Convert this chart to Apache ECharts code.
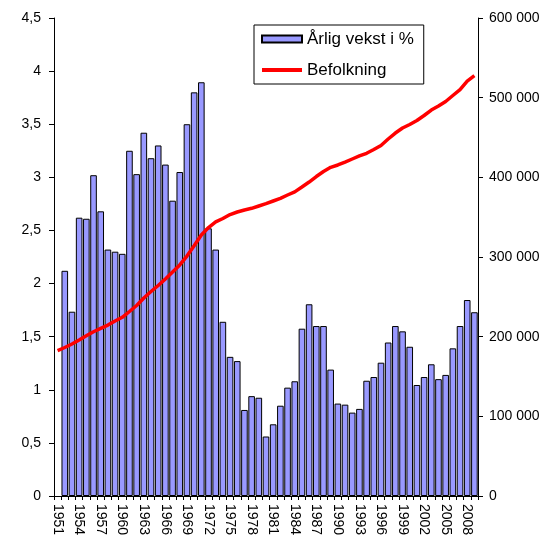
<!DOCTYPE html>
<html>
<head>
<meta charset="utf-8">
<script src="https://cdn.jsdelivr.net/npm/echarts@6/dist/echarts.min.js"></script>
<style>
html,body{margin:0;padding:0;background:#fff;}
#chart{width:550px;height:545px;}
</style>
</head>
<body>
<div id="chart"></div>
<script>
var years = ['1951','1952','1953','1954','1955','1956','1957','1958','1959','1960',
'1961','1962','1963','1964','1965','1966','1967','1968','1969','1970',
'1971','1972','1973','1974','1975','1976','1977','1978','1979','1980',
'1981','1982','1983','1984','1985','1986','1987','1988','1989','1990',
'1991','1992','1993','1994','1995','1996','1997','1998','1999','2000',
'2001','2002','2003','2004','2005','2006','2007','2008','2009'];

var growth = [null, 2.12, 1.735, 2.62, 2.61, 3.02, 2.68, 2.32, 2.30, 2.28,
3.25, 3.03, 3.42, 3.18, 3.30, 3.12, 2.78, 3.05, 3.50, 3.80,
3.895, 2.52, 2.32, 1.64, 1.31, 1.27, 0.81, 0.94, 0.925, 0.56,
0.675, 0.85, 1.02, 1.08, 1.575, 1.805, 1.60, 1.60, 1.19, 0.87,
0.86, 0.785, 0.82, 1.085, 1.12, 1.255, 1.445, 1.60, 1.55, 1.405,
1.045, 1.12, 1.24, 1.10, 1.14, 1.39, 1.60, 1.845, 1.73];

var population = [182600, 186400, 190800, 195800, 201200, 206200, 210500, 214600, 219700, 224300,
231600, 239100, 248500, 256700, 264200, 272400, 281200, 290000, 301200, 314200,
327600, 337000, 344000, 348300, 353300, 356500, 359000, 361100, 364000, 366900,
370300, 373700, 377800, 381800, 387900, 394100, 401000, 407300, 412600, 415500,
419200, 423000, 426800, 430200, 434900, 440000, 448100, 455600, 461900, 466300,
471300, 477600, 484500, 489500, 495200, 502700, 510200, 520900, 527800];

var leftTicks = {min: 0, max: 4.5, interval: 0.5};
var rightTicks = {min: 0, max: 600000, interval: 100000};

var FONT = '"Liberation Sans", Arial, sans-serif';
var chart = echarts.init(document.getElementById('chart'), null, {renderer: 'canvas'});

chart.setOption({
  animation: false,
  backgroundColor: '#ffffff',
  textStyle: {fontFamily: FONT, color: '#000'},
  grid: {left: 54, right: 72, top: 18, bottom: 49, containLabel: false},
  legend: {
    orient: 'vertical',
    left: 254, top: 25,
    padding: [4, 10, 4, 7],
    itemGap: 11,
    itemWidth: 40,
    itemHeight: 7,
    borderColor: '#000',
    borderWidth: 1,
    backgroundColor: '#fff',
    textStyle: {fontFamily: FONT, fontSize: 17, color: '#000', lineHeight: 20},
    data: [
      {name: 'Årlig vekst i %', icon: 'rect'},
      {name: 'Befolkning', icon: 'path://M0,0L40,0L40,4L0,4Z', itemStyle: {color: '#ff0000', borderWidth: 0}}
    ]
  },
  xAxis: {
    type: 'category',
    data: years,
    boundaryGap: true,
    axisLine: {lineStyle: {color: '#000', width: 1}},
    axisTick: {show: true, interval: 0, alignWithLabel: false, length: 4, lineStyle: {color: '#000'}},
    axisLabel: {interval: 2, rotate: -90, fontSize: 14, color: '#000', fontFamily: FONT, margin: 8},
    splitLine: {show: false}
  },
  yAxis: [
    {
      type: 'value',
      min: leftTicks.min, max: leftTicks.max, interval: leftTicks.interval,
      position: 'left',
      axisLine: {show: true, lineStyle: {color: '#000', width: 1}},
      axisTick: {show: true, length: 5, lineStyle: {color: '#000'}},
      splitLine: {show: false},
      axisLabel: {
        fontSize: 14, color: '#000', fontFamily: FONT, margin: 13,
        formatter: function (v) { return String(v).replace('.', ','); }
      }
    },
    {
      type: 'value',
      min: rightTicks.min, max: rightTicks.max, interval: rightTicks.interval,
      position: 'right',
      axisLine: {show: true, lineStyle: {color: '#000', width: 1}},
      axisTick: {show: true, length: 5, lineStyle: {color: '#000'}},
      splitLine: {show: false},
      axisLabel: {
        fontSize: 14, color: '#000', fontFamily: FONT, margin: 11,
        formatter: function (v) { return String(v).replace(/\B(?=(\d{3})+(?!\d))/g, ' '); }
      }
    }
  ],
  series: [
    {
      name: 'Årlig vekst i %',
      type: 'bar',
      yAxisIndex: 0,
      data: growth,
      barCategoryGap: '8%',
      itemStyle: {color: '#9999ff', borderColor: '#000', borderWidth: 1}
    },
    {
      name: 'Befolkning',
      type: 'line',
      yAxisIndex: 1,
      data: population,
      symbol: 'none',
      smooth: false,
      lineStyle: {color: '#ff0000', width: 3.5},
      itemStyle: {color: '#ff0000'},
      z: 5
    }
  ]
});
</script>
</body>
</html>
